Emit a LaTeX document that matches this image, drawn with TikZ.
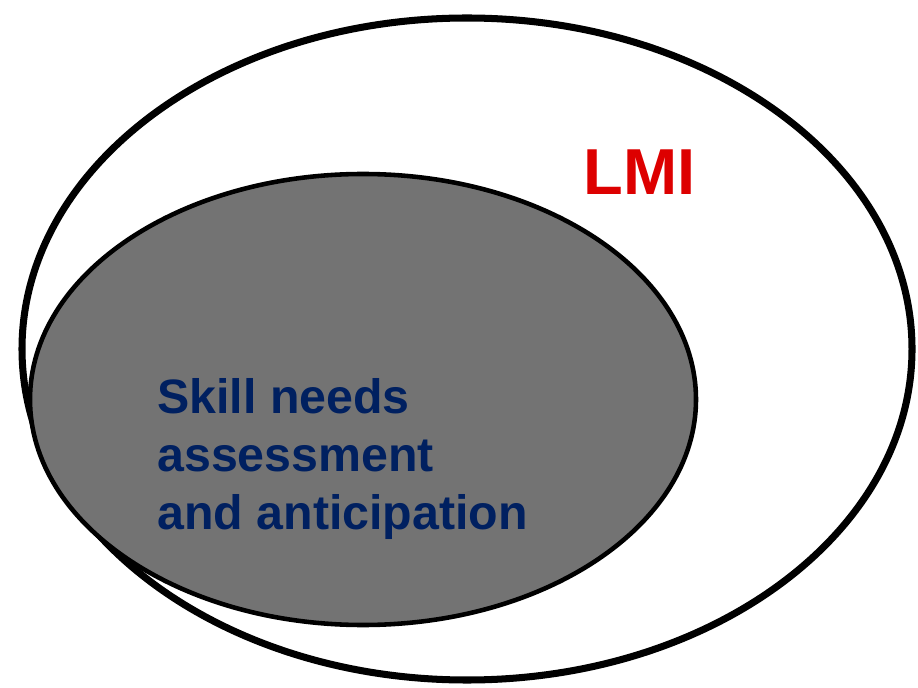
\documentclass[tikz,border=0pt]{standalone}
\usepackage{fontspec}
\setmainfont{Liberation Sans}
\definecolor{lmired}{HTML}{DD0000}
\definecolor{skillblue}{HTML}{002060}
\definecolor{skillgray}{HTML}{737373}
\begin{document}
\begin{tikzpicture}[x=0.02cm,y=-0.02cm]
	\useasboundingbox (0,0) rectangle (918,688);
	% outer set: labour market information
	\draw [line width=4pt] (467,349) ellipse [x radius=445, y radius=331];
	% inner set: skill needs
	\filldraw [fill=skillgray, line width=2.6pt] (363,399.5) ellipse [x radius=333, y radius=225.5];
	\node (lmi) [anchor=base west, inner sep=0, text=lmired, font=\fontsize{37}{44}\selectfont\bfseries] at (583,195) {LMI};
	\node (skills) [anchor=base west, inner sep=0, align=left, text=skillblue, font=\fontsize{27.5}{32.8}\selectfont\bfseries] at (157,529) {Skill needs\\assessment\\and anticipation};
\end{tikzpicture}
\end{document}
